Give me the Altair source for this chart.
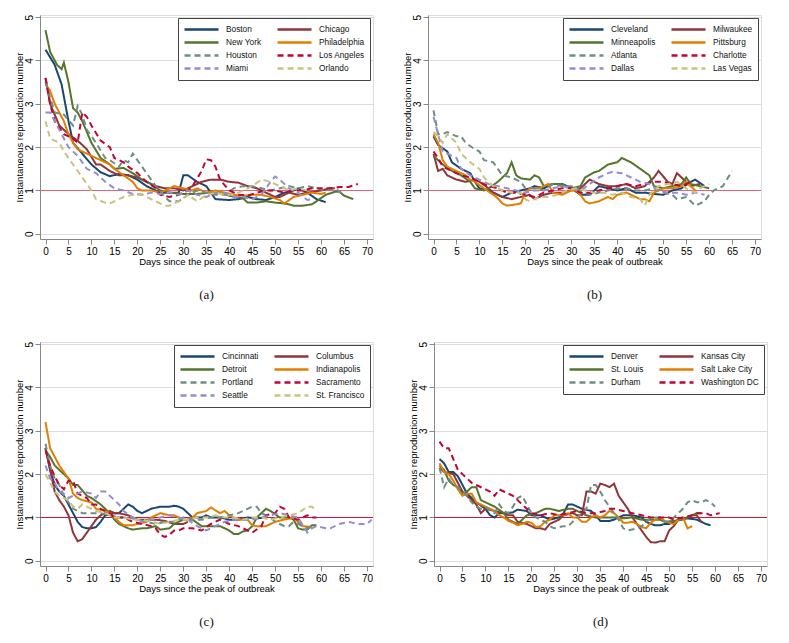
import altair as alt
import pandas as pd

# ---------------- data ----------------
COLORS_8 = ["#1a476f", "#90353b", "#55752f", "#e37e00",
            "#6e8e84", "#c10534", "#938dd2", "#cac27e"]
SOLID = [1, 0]
DASH = [6, 4]
DASHES_8 = [SOLID, SOLID, SOLID, SOLID, DASH, DASH, DASH, DASH]

CITIES_A = ["Boston", "Chicago", "New York", "Philadelphia",
            "Houston", "Los Angeles", "Miami", "Orlando"]
PANEL_A = {
    "Boston": ([0, 2, 3.5, 5, 6, 8, 10, 12, 14, 16, 18, 20, 22, 24, 25, 27, 29, 30, 31, 33, 35, 37, 40, 42, 44, 46, 48, 50, 52, 54, 55, 57, 59, 61],
               [4.25, 3.9, 3.45, 2.6, 2.1, 1.85, 1.6, 1.42, 1.33, 1.38, 1.35, 1.25, 1.1, 1.0, 0.95, 0.95, 0.95, 1.35, 1.35, 1.2, 1.1, 0.8, 0.78, 0.8, 0.85, 0.8, 0.78, 0.85, 0.95, 1.0, 1.05, 0.95, 0.8, 0.73]),
    "Chicago": ([0, 1, 3, 5, 7, 9, 11, 12, 14, 16, 18, 20, 22, 24, 26, 28, 30, 31, 32, 34, 36, 38, 40, 42, 44, 46, 48, 50, 51, 53, 55, 57, 60, 62, 63],
                [3.6, 3.0, 2.5, 2.3, 2.15, 1.95, 1.6, 1.6, 1.45, 1.35, 1.35, 1.3, 1.2, 1.1, 1.05, 1.05, 1.0, 1.05, 1.1, 1.2, 1.25, 1.25, 1.2, 1.18, 1.1, 1.05, 0.95, 0.85, 0.85, 0.95, 0.9, 0.95, 1.0, 1.05, 1.05]),
    "New York": ([0, 1, 2.5, 3.5, 4, 5, 6, 7, 8, 10, 12, 14, 15, 17, 19, 21, 23, 25, 27, 30, 33, 36, 38, 40, 43, 44, 46, 48, 50, 52, 53, 54, 56, 58, 59, 61, 63, 64, 65, 67],
                 [4.7, 4.2, 3.9, 3.8, 3.95, 3.5, 2.9, 2.8, 2.6, 2.1, 1.75, 1.6, 1.5, 1.52, 1.4, 1.25, 1.15, 1.0, 0.95, 0.92, 0.92, 0.95, 0.95, 0.88, 0.82, 0.72, 0.72, 0.75, 0.72, 0.7, 0.68, 0.65, 0.65, 0.68, 0.75, 0.9, 0.97, 0.97, 0.88, 0.8]),
    "Philadelphia": ([0, 1, 2, 4, 5, 6, 7, 8, 10, 11, 13, 14, 15, 17, 19, 20, 21, 23, 25, 27, 28, 30, 32, 33, 35, 37, 39, 41, 43, 45, 47, 49, 51, 52, 54, 56, 58, 60, 61],
                     [3.45, 3.3, 3.0, 2.6, 2.3, 2.1, 1.95, 1.9, 1.8, 1.75, 1.65, 1.6, 1.5, 1.35, 1.2, 1.05, 1.0, 1.0, 0.95, 1.05, 1.1, 1.05, 1.0, 1.05, 0.95, 1.0, 0.95, 0.9, 0.88, 0.9, 0.9, 0.85, 0.78, 0.7, 0.85, 0.9, 0.95, 0.92, 0.95]),
    "Houston": ([0, 2, 4, 6, 7, 8, 9, 11, 13, 14, 16, 17, 18, 19, 20, 22, 24, 26, 27, 29, 31, 33, 35, 37, 39, 41, 43, 45, 47, 49, 51, 53, 55, 57, 59, 61, 63, 65],
                [3.5, 2.8, 2.75, 2.5, 2.95, 2.75, 2.4, 2.1, 1.75, 1.7, 1.55, 1.7, 1.65, 1.85, 1.7, 1.4, 1.1, 0.85, 0.75, 0.75, 0.9, 1.0, 0.95, 0.9, 0.9, 1.05, 1.1, 1.1, 1.05, 1.0, 1.05, 1.1, 1.05, 1.1, 1.05, 1.0, 1.05, 0.9]),
    "Los Angeles": ([0, 1, 2, 4, 6, 7, 8, 9, 10, 12, 14, 15, 17, 18, 20, 22, 24, 25, 27, 29, 31, 32, 34, 35, 36, 37, 38, 40, 42, 44, 46, 48, 50, 52, 54, 56, 58, 60, 62, 64, 66, 68],
                    [3.6, 3.0, 2.6, 2.3, 2.2, 2.1, 2.8, 2.7, 2.5, 2.15, 2.0, 1.75, 1.65, 1.55, 1.4, 1.2, 1.05, 0.9, 0.85, 0.9, 1.0, 1.1, 1.45, 1.72, 1.7, 1.55, 1.25, 1.0, 0.9, 0.88, 0.95, 1.0, 1.0, 0.95, 1.0, 1.0, 1.05, 1.05, 1.05, 1.08, 1.08, 1.15]),
    "Miami": ([0, 1, 3, 4, 5, 7, 9, 11, 13, 15, 17, 19, 21, 23, 25, 27, 29, 31, 33, 35, 37, 39, 41, 43, 45, 47, 49, 50, 51, 53, 55, 57, 58],
              [2.8, 2.8, 2.4, 2.2, 2.0, 1.8, 1.5, 1.4, 1.2, 1.05, 1.0, 0.92, 0.9, 0.95, 0.92, 0.95, 0.9, 1.0, 0.9, 0.85, 0.95, 0.95, 0.85, 0.85, 0.8, 0.9, 1.2, 1.32, 1.25, 1.05, 0.95, 0.78, 0.8]),
    "Orlando": ([0, 1, 3, 4, 6, 8, 10, 11, 13, 14, 16, 17, 19, 21, 22, 24, 26, 27, 29, 31, 33, 35, 37, 39, 41, 43, 45, 47, 49, 51, 53, 55, 57],
                [2.6, 2.2, 2.1, 1.9, 1.6, 1.3, 1.0, 0.8, 0.72, 0.7, 0.8, 0.85, 0.9, 0.92, 0.85, 0.75, 0.65, 0.65, 0.75, 0.9, 0.75, 0.9, 0.95, 0.9, 0.9, 1.0, 1.1, 1.25, 1.2, 1.1, 1.0, 1.05, 1.0]),
}

CITIES_B = ["Cleveland", "Milwaukee", "Minneapolis", "Pittsburg",
            "Atlanta", "Charlotte", "Dallas", "Las Vegas"]
PANEL_B = {
    "Cleveland": ([0, 1, 3, 4, 6, 8, 9, 10, 12, 14, 15, 17, 19, 21, 22, 24, 26, 28, 30, 32, 34, 36, 38, 40, 42, 44, 46, 48, 50, 52, 54, 56, 57, 59],
                  [2.25, 2.05, 1.9, 1.65, 1.5, 1.4, 1.2, 1.05, 1.0, 0.9, 0.85, 0.95, 1.0, 1.05, 1.1, 1.05, 1.15, 1.15, 1.05, 0.9, 0.9, 1.1, 1.05, 1.0, 1.05, 0.95, 0.95, 0.92, 0.9, 1.0, 1.05, 1.2, 1.25, 1.1]),
    "Milwaukee": ([0, 1, 2, 3, 5, 7, 9, 10, 12, 13, 15, 17, 19, 21, 22, 24, 26, 28, 30, 32, 34, 36, 38, 40, 42, 44, 46, 48, 49, 51, 52, 53, 55, 56, 58],
                  [1.85, 1.45, 1.5, 1.35, 1.25, 1.2, 1.25, 1.2, 1.05, 0.95, 0.85, 0.8, 0.85, 0.9, 0.8, 0.9, 0.95, 0.95, 1.0, 1.05, 1.25, 1.15, 1.1, 1.1, 1.15, 1.05, 1.1, 1.3, 1.45, 1.2, 1.15, 1.4, 1.2, 1.1, 1.15]),
    "Minneapolis": ([0, 2, 4, 6, 8, 9, 11, 12, 14, 16, 17, 18, 19, 21, 22, 23, 24, 26, 28, 30, 32, 33, 35, 36, 38, 40, 41, 43, 45, 47, 48, 50, 52, 54, 55, 56, 58, 60],
                    [1.8, 1.6, 1.45, 1.35, 1.2, 1.05, 1.0, 1.05, 1.2, 1.4, 1.65, 1.35, 1.28, 1.25, 1.35, 1.3, 1.1, 1.15, 1.15, 1.05, 1.1, 1.3, 1.42, 1.45, 1.6, 1.65, 1.75, 1.65, 1.5, 1.35, 1.1, 1.05, 1.1, 1.15, 1.3, 1.15, 1.1, 1.05]),
    "Pittsburg": ([0, 1, 2, 3, 5, 7, 8, 9, 11, 13, 14, 15, 16, 18, 19, 20, 21, 23, 25, 26, 28, 30, 31, 32, 33, 34, 36, 37, 38, 39, 40, 42, 44, 45, 46, 47, 48, 50, 52, 54, 55, 56, 57],
                  [2.3, 2.1, 1.7, 1.55, 1.45, 1.35, 1.25, 1.2, 1.05, 0.9, 0.82, 0.7, 0.65, 0.68, 0.7, 0.95, 1.05, 1.05, 1.15, 0.95, 0.9, 1.0, 1.0, 0.9, 0.75, 0.7, 0.75, 0.8, 0.85, 0.8, 0.9, 0.95, 0.85, 0.8, 0.8, 0.75, 0.95, 1.05, 1.05, 1.1, 1.2, 1.1, 1.0]),
    "Atlanta": ([0, 1, 2, 3, 5, 6, 7, 9, 10, 11, 13, 14, 15, 17, 19, 20, 22, 24, 26, 28, 30, 32, 34, 36, 38, 40, 42, 44, 46, 48, 50, 52, 53, 55, 56, 57, 59, 60, 61, 63, 65],
                [2.85, 2.3, 2.3, 2.35, 2.25, 2.25, 2.1, 1.95, 1.9, 1.7, 1.65, 1.5, 1.35, 1.3, 1.2, 1.05, 1.05, 1.0, 1.15, 1.1, 1.1, 1.0, 0.9, 0.95, 1.0, 1.05, 1.05, 1.0, 1.0, 1.05, 0.95, 0.9, 0.8, 0.85, 0.75, 0.65, 0.75, 0.9, 1.0, 1.1, 1.45]),
    "Charlotte": ([0, 1, 2, 4, 6, 8, 10, 12, 14, 16, 18, 20, 22, 24, 26, 28, 30, 32, 34, 36, 38, 40, 42, 44, 46, 48, 50, 52, 54, 56],
                  [1.9, 1.75, 1.55, 1.45, 1.35, 1.3, 1.2, 1.1, 1.05, 0.95, 0.95, 0.9, 0.85, 0.95, 1.0, 1.05, 1.05, 0.95, 0.95, 1.0, 1.05, 1.1, 1.15, 1.1, 1.15, 1.2, 1.2, 1.15, 1.1, 1.2]),
    "Dallas": ([0, 1, 2, 4, 5, 6, 8, 10, 12, 14, 16, 18, 20, 22, 24, 26, 28, 30, 32, 34, 36, 38, 39, 41, 43, 45, 47, 49, 51, 53, 55, 57, 59],
               [2.7, 2.3, 1.9, 1.8, 1.75, 1.5, 1.35, 1.25, 1.15, 1.1, 1.05, 1.0, 0.95, 1.0, 1.0, 1.05, 1.1, 1.05, 1.0, 1.15, 1.3, 1.4, 1.43, 1.4, 1.3, 1.2, 1.15, 1.0, 0.95, 0.95, 0.9, 0.95, 0.9]),
    "Las Vegas": ([0, 1, 2, 3, 5, 6, 8, 10, 11, 13, 15, 17, 19, 20, 21, 23, 25, 27, 29, 31, 33, 35, 37, 39, 41, 43, 45, 46, 47, 49, 51, 53, 55, 57, 58, 60],
                  [2.35, 2.25, 2.1, 2.3, 2.1, 1.85, 1.65, 1.5, 1.3, 1.1, 1.0, 0.95, 0.95, 0.8, 0.75, 0.85, 0.85, 0.9, 1.0, 1.05, 1.0, 0.95, 0.95, 0.9, 0.95, 0.85, 0.8, 0.65, 0.9, 1.1, 1.15, 1.2, 1.05, 0.95, 1.05, 1.15]),
}

CITIES_C = ["Cincinnati", "Columbus", "Detroit", "Indianapolis",
            "Portland", "Sacramento", "Seattle", "St. Francisco"]
PANEL_C = {
    "Cincinnati": ([0, 1, 2, 3, 4, 5, 6, 7, 8, 9, 10, 11, 12, 13, 15, 16, 17, 18, 19, 20, 21, 22, 23, 25, 27, 28, 29, 30, 31, 32, 34, 35, 36, 38, 40, 42, 44, 46, 48],
                   [2.6, 2.1, 1.75, 1.6, 1.5, 1.3, 1.1, 0.9, 0.78, 0.75, 0.75, 0.78, 0.9, 1.05, 1.1, 1.1, 1.2, 1.3, 1.25, 1.15, 1.1, 1.15, 1.2, 1.25, 1.25, 1.27, 1.25, 1.2, 1.1, 1.0, 1.0, 1.05, 1.0, 1.0, 0.95, 0.95, 1.0, 0.98, 1.0]),
    "Columbus": ([0, 1, 2, 3, 4, 5, 6, 7, 8, 9, 10, 11, 12, 14, 15, 16, 18, 20, 22, 24, 26, 28, 30, 31],
                 [2.6, 2.1, 1.6, 1.4, 1.25, 1.05, 0.65, 0.45, 0.5, 0.65, 0.8, 0.95, 1.05, 1.15, 1.1, 1.1, 1.05, 0.95, 0.95, 0.95, 0.92, 0.85, 0.85, 0.9]),
    "Detroit": ([0, 1, 2, 4, 5, 6, 7, 9, 10, 12, 14, 15, 16, 18, 19, 21, 22, 24, 25, 27, 28, 30, 32, 34, 36, 38, 40, 41, 42, 43, 44, 45, 46, 48, 49, 51, 53, 54, 55, 56, 57, 58, 59],
                [2.55, 2.4, 2.2, 2.0, 1.9, 1.75, 1.75, 1.5, 1.45, 1.3, 1.1, 0.95, 0.85, 0.75, 0.72, 0.75, 0.75, 0.8, 0.72, 0.75, 0.85, 0.95, 0.95, 0.8, 0.8, 0.8, 0.7, 0.62, 0.62, 0.68, 0.7, 0.8, 1.0, 1.2, 1.15, 1.0, 1.0, 0.95, 0.75, 0.72, 0.72, 0.82, 0.82]),
    "Indianapolis": ([0, 1, 2, 3, 4, 5, 6, 7, 8, 10, 11, 13, 14, 15, 16, 17, 19, 20, 22, 23, 25, 27, 28, 30, 31, 32, 33, 35, 36, 38, 39, 40, 42, 44, 45, 46, 48, 49, 50, 52, 54, 55, 56, 58],
                     [3.2, 2.6, 2.4, 2.2, 2.05, 1.9, 1.55, 1.45, 1.4, 1.35, 1.2, 1.15, 1.1, 1.0, 0.9, 0.82, 0.82, 0.85, 0.9, 1.0, 1.1, 1.05, 1.05, 0.95, 0.95, 1.0, 1.1, 1.15, 1.23, 1.1, 1.15, 1.05, 0.95, 0.95, 0.82, 0.8, 0.8, 0.85, 0.9, 0.95, 1.0, 0.9, 0.8, 0.78]),
    "Portland": ([0, 1, 2, 3, 4, 5, 6, 7, 8, 10, 12, 14, 16, 18, 20, 22, 24, 26, 28, 30, 32, 34, 36, 38, 40, 42, 44, 45, 46, 47, 49, 50, 51, 52, 53, 54, 55, 56, 57, 58],
                 [2.7, 2.2, 1.9, 1.75, 1.5, 1.35, 1.2, 1.15, 1.1, 1.1, 1.1, 1.05, 1.0, 1.0, 0.95, 0.9, 0.85, 0.9, 0.9, 1.0, 0.95, 0.95, 1.0, 1.0, 1.05, 1.1, 1.2, 1.25, 1.25, 1.1, 1.0, 0.9, 0.85, 0.8, 0.8, 0.9, 0.85, 0.8, 0.75, 0.8]),
    "Sacramento": ([0, 1, 2, 3, 4, 5, 6, 7, 9, 10, 11, 12, 14, 15, 17, 19, 21, 23, 24, 25, 26, 27, 28, 29, 30, 32, 34, 36, 38, 40, 42, 43, 45, 47, 48, 50, 51, 52, 53, 55, 57, 58, 59],
                   [2.55, 2.2, 1.95, 1.75, 1.65, 1.85, 1.85, 1.55, 1.45, 1.3, 1.3, 1.2, 1.1, 1.0, 1.0, 0.9, 0.85, 0.8, 0.75, 0.6, 0.55, 0.6, 0.7, 0.7, 0.75, 0.75, 0.7, 0.85, 0.95, 0.85, 0.8, 0.75, 0.65, 0.8, 1.05, 1.1, 1.25, 1.2, 1.0, 0.95, 1.05, 1.0, 1.0]),
    "Seattle": ([0, 1, 2, 3, 4, 5, 7, 8, 10, 11, 12, 13, 14, 15, 16, 17, 19, 21, 23, 25, 27, 29, 31, 33, 35, 37, 39, 41, 43, 45, 47, 49, 51, 53, 55, 57, 58, 59, 61, 62, 64, 66, 68, 70, 71],
                [2.2, 1.9, 1.8, 1.6, 1.55, 1.45, 1.55, 1.6, 1.55, 1.45, 1.6, 1.6, 1.5, 1.4, 1.3, 1.15, 1.0, 0.9, 0.95, 1.0, 1.05, 1.0, 0.95, 0.8, 0.7, 0.8, 0.9, 0.95, 0.95, 0.95, 1.0, 1.05, 1.1, 1.05, 1.0, 0.65, 0.75, 0.8, 0.75, 0.75, 0.85, 0.9, 0.85, 0.85, 0.95]),
    "St. Francisco": ([0, 1, 2, 3, 4, 5, 6, 7, 8, 9, 11, 13, 15, 17, 19, 21, 23, 25, 27, 29, 31, 33, 35, 37, 39, 41, 43, 45, 47, 49, 51, 53, 55, 57, 58, 59],
                      [2.0, 1.8, 1.6, 1.5, 1.45, 1.4, 1.25, 1.2, 1.3, 1.25, 1.15, 1.1, 1.0, 1.0, 0.95, 0.95, 0.9, 0.85, 0.9, 0.95, 0.95, 1.0, 1.0, 1.05, 1.0, 1.0, 0.95, 1.0, 1.0, 0.95, 1.0, 1.05, 1.1, 1.25, 1.25, 1.15]),
}

CITIES_D = ["Denver", "Kansas City", "St. Louis", "Salt Lake City",
            "Durham", "Washington DC"]
COLORS_6 = ["#1a476f", "#90353b", "#55752f", "#e37e00", "#6e8e84", "#c10534"]
DASHES_6 = [SOLID, SOLID, SOLID, SOLID, DASH, DASH]
PANEL_D = {
    "Denver": ([0, 1, 2, 3, 4, 5, 6, 7, 8, 10, 11, 12, 13, 15, 16, 17, 19, 20, 22, 24, 26, 27, 28, 29, 30, 31, 33, 34, 35, 37, 38, 39, 40, 42, 44, 45, 46, 47, 48, 49, 50, 51, 52, 54, 56, 58, 59],
               [2.35, 2.25, 2.05, 2.05, 1.95, 1.75, 1.55, 1.45, 1.35, 1.2, 1.05, 1.0, 1.1, 1.1, 1.12, 1.18, 1.15, 1.05, 1.05, 0.95, 1.0, 1.1, 1.3, 1.3, 1.25, 1.2, 1.15, 1.05, 0.92, 0.92, 0.95, 1.0, 1.05, 1.05, 1.0, 0.9, 0.85, 0.82, 0.82, 0.85, 0.85, 0.9, 0.95, 0.98, 0.95, 0.85, 0.82]),
    "Kansas City": ([0, 1, 3, 4, 5, 6, 7, 8, 9, 10, 12, 14, 15, 16, 17, 19, 21, 22, 23, 24, 25, 26, 27, 29, 30, 31, 32, 33, 34, 35, 36, 37, 38, 39, 40, 41, 42, 43, 44, 45, 46, 47, 48, 49, 50, 51, 52, 54, 55, 56, 57],
                    [2.15, 2.05, 2.0, 1.8, 1.6, 1.5, 1.4, 1.3, 1.1, 1.2, 1.15, 1.1, 1.05, 1.05, 0.9, 0.85, 0.75, 0.75, 0.72, 0.85, 0.9, 0.95, 1.05, 1.1, 1.05, 1.05, 1.6, 1.6, 1.55, 1.78, 1.75, 1.7, 1.78, 1.5, 1.35, 1.2, 1.0, 0.85, 0.7, 0.55, 0.43, 0.42, 0.45, 0.45, 0.7, 0.8, 0.95, 1.0, 1.05, 1.05, 0.9]),
    "St. Louis": ([0, 1, 2, 3, 4, 5, 6, 7, 8, 9, 11, 12, 14, 15, 16, 17, 18, 19, 21, 22, 23, 24, 26, 28, 29, 31, 32, 34, 36, 38, 40, 42, 44, 46, 48, 49, 51, 53, 55, 56, 57],
                  [2.2, 2.1, 1.85, 1.75, 1.7, 1.55, 1.6, 1.7, 1.7, 1.4, 1.3, 1.25, 1.1, 0.95, 0.9, 0.85, 0.95, 1.05, 1.1, 1.15, 1.2, 1.2, 1.15, 1.2, 1.2, 1.1, 1.05, 1.0, 1.0, 1.0, 0.98, 1.0, 0.95, 0.95, 0.95, 0.9, 0.92, 0.95, 1.05, 1.1, 1.1]),
    "Salt Lake City": ([0, 1, 2, 3, 4, 5, 6, 7, 8, 9, 11, 12, 13, 14, 15, 16, 17, 18, 19, 20, 21, 22, 23, 24, 25, 27, 28, 29, 30, 31, 32, 33, 34, 35, 36, 37, 38, 39, 40, 41, 42, 43, 44, 45, 46, 47, 48, 49, 50, 51, 52, 53, 54, 55],
                       [2.25, 2.05, 2.0, 1.85, 1.65, 1.5, 1.55, 1.55, 1.35, 1.3, 1.2, 1.15, 1.05, 1.0, 0.92, 0.88, 0.82, 0.85, 0.9, 0.88, 0.78, 0.8, 0.9, 0.95, 1.05, 1.05, 1.1, 1.0, 1.0, 0.9, 0.9, 1.0, 1.05, 1.0, 1.05, 1.15, 1.1, 1.0, 0.88, 0.88, 0.9, 0.85, 0.78, 0.75, 0.88, 0.95, 1.0, 0.92, 0.88, 0.85, 0.95, 1.0, 0.75, 0.8]),
    "Durham": ([0, 1, 2, 3, 4, 5, 6, 7, 8, 9, 10, 11, 12, 13, 14, 15, 16, 17, 18, 19, 20, 21, 22, 23, 24, 25, 27, 28, 29, 30, 32, 33, 34, 35, 36, 37, 38, 39, 40, 41, 43, 44, 45, 46, 48, 49, 50, 51, 52, 53, 54, 55, 56, 57, 58, 59, 60],
               [2.15, 1.7, 1.9, 1.75, 1.7, 1.6, 1.5, 1.35, 1.25, 1.2, 1.25, 1.15, 1.1, 1.3, 1.15, 1.1, 1.25, 1.45, 1.5, 1.3, 1.1, 1.0, 0.95, 0.9, 0.8, 0.75, 0.8, 0.8, 0.9, 1.0, 1.2, 1.75, 1.75, 1.6, 1.4, 1.25, 1.1, 0.95, 0.75, 0.7, 0.75, 0.8, 0.9, 1.0, 1.0, 0.9, 0.9, 1.0, 1.1, 1.2, 1.35, 1.4, 1.35, 1.35, 1.4, 1.35, 1.25]),
    "Washington DC": ([0, 1, 2, 3, 4, 5, 6, 7, 8, 10, 11, 12, 13, 14, 16, 17, 18, 19, 20, 22, 24, 26, 28, 30, 32, 34, 36, 37, 38, 40, 42, 44, 46, 48, 50, 51, 53, 55, 56, 58, 59, 61],
                      [2.75, 2.6, 2.6, 2.35, 2.1, 2.0, 1.9, 1.8, 1.75, 1.65, 1.6, 1.5, 1.65, 1.6, 1.5, 1.4, 1.3, 1.2, 1.1, 1.05, 1.1, 1.05, 1.1, 1.15, 1.1, 1.1, 1.15, 1.2, 1.2, 1.15, 1.1, 1.05, 1.0, 1.0, 1.0, 0.95, 1.0, 1.05, 1.1, 1.1, 1.05, 1.1]),
}

X_TICKS = list(range(0, 75, 5))
Y_TICKS = [0, 1, 2, 3, 4, 5]
FONT = "Liberation Sans"


def panel(data, cities, colors, dashes, caption, rule_color):
    rows = []
    for c in cities:
        days, vals = data[c]
        for d, v in zip(days, vals):
            rows.append({"city": c, "day": d, "r": v})
    df = pd.DataFrame(rows)
    legend = alt.Legend(
        orient="top-right", direction="horizontal", columns=2, title=None,
        symbolType="stroke", symbolSize=1156, symbolStrokeWidth=2.5,
        labelFontSize=8.3, labelFont=FONT, labelColor="#111",
        strokeColor="#444", fillColor="white", padding=5, offset=3,
        clipHeight=13, rowPadding=0, columnPadding=14, labelOffset=6,
        labelLimit=200,
    )
    xs = alt.Scale(domain=[-1.2, 71.3], nice=False, zero=False)
    ys = alt.Scale(domain=[-0.12, 5.05], nice=False, zero=False)
    lines = alt.Chart(df).mark_line(strokeWidth=2).encode(
        x=alt.X("day:Q", scale=xs,
                axis=alt.Axis(values=X_TICKS, title="Days since the peak of outbreak",
                              grid=False, titlePadding=0, labelPadding=2,
                              titleFontWeight="normal", titleFontSize=9.5)),
        y=alt.Y("r:Q", scale=ys,
                axis=alt.Axis(values=Y_TICKS, title="Instantaneous reproduction number",
                              grid=True, labelAngle=270, labelAlign="center",
                              labelBaseline="bottom", labelPadding=1, titlePadding=0,
                              titleFontWeight="normal", titleFontSize=9.5)),
        color=alt.Color("city:N", scale=alt.Scale(domain=cities, range=colors), legend=legend),
        strokeDash=alt.StrokeDash("city:N", scale=alt.Scale(domain=cities, range=dashes), legend=legend),
    )
    rule = alt.Chart(pd.DataFrame({"v": [1]})).mark_rule(color=rule_color, strokeWidth=1).encode(
        y=alt.datum(1)
    )
    return alt.layer(rule, lines).properties(
        width=333, height=224,
        title=alt.TitleParams(caption, orient="bottom", font="Liberation Serif",
                              fontSize=13, fontWeight="normal", color="#111", offset=23),
    )


pa = panel(PANEL_A, CITIES_A, COLORS_8, DASHES_8, "(a)", "#e2607a")
pb = panel(PANEL_B, CITIES_B, COLORS_8, DASHES_8, "(b)", "#e2607a")
pc = panel(PANEL_C, CITIES_C, COLORS_8, DASHES_8, "(c)", "#b81c3a")
pd_ = panel(PANEL_D, CITIES_D, COLORS_6, DASHES_6, "(d)", "#b81c3a")

row1 = alt.hconcat(pa, pb, spacing=27).resolve_scale(color="independent", strokeDash="independent")
row2 = alt.hconcat(pc, pd_, spacing=30).resolve_scale(color="independent", strokeDash="independent")
chart = alt.vconcat(row1, row2, spacing=38).resolve_scale(
    color="independent", strokeDash="independent"
).configure_view(strokeWidth=0).configure_axis(
    labelFont=FONT, labelFontSize=12, labelColor="#222",
    titleFont=FONT, titleFontSize=9.5, titleFontWeight="normal", titleColor="#222",
    domainColor="#333", tickColor="#333", tickSize=5, gridColor="#e4eef0",
).configure(background="white")

chart.save("out.html", embed_options={"renderer": "svg", "actions": False})
